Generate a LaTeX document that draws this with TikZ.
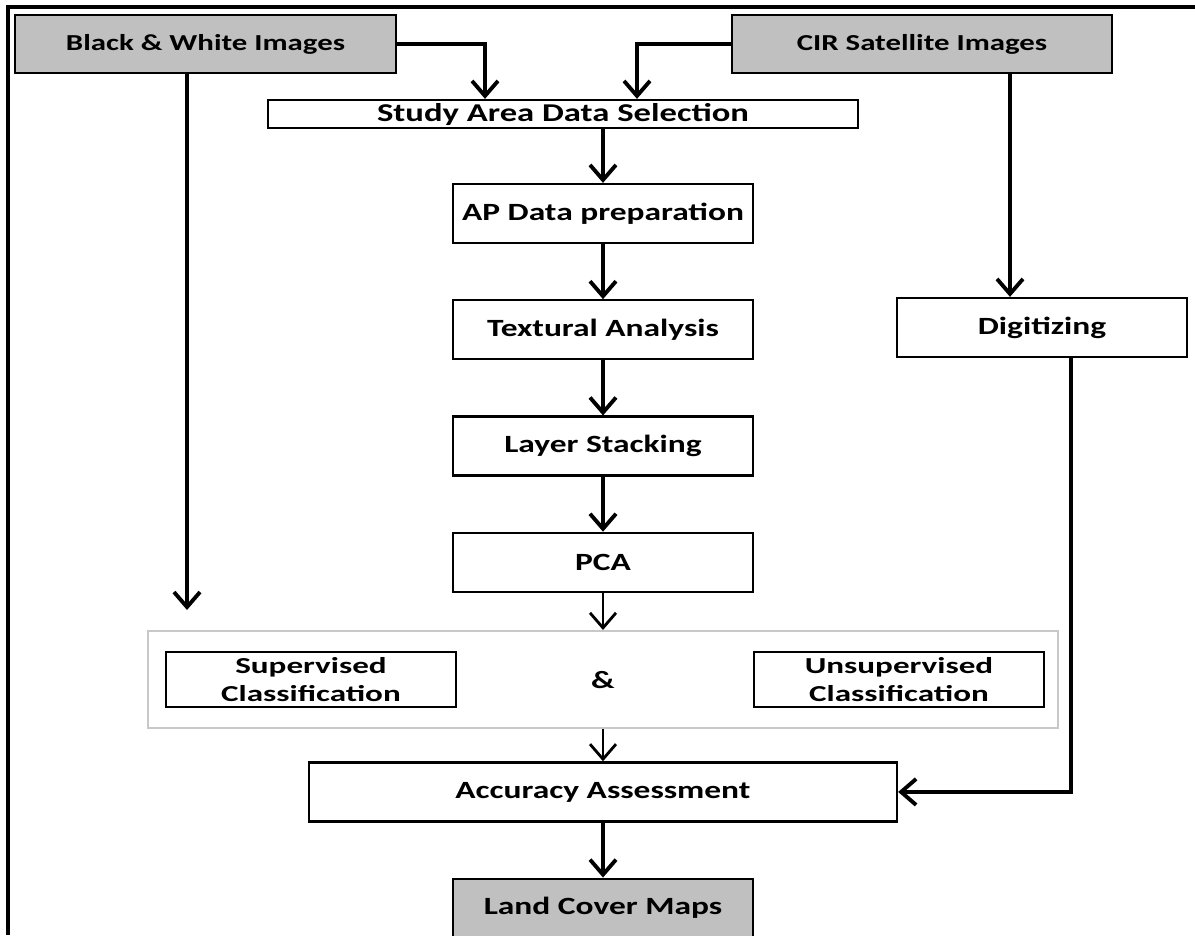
\documentclass[tikz,border=0pt]{standalone}
\usepackage{fontspec}
\setmainfont{Carlito}
\newfontfamily\midfont[FakeStretch=1.35]{Carlito}
\newfontfamily\widefont[FakeStretch=1.45]{Carlito}
\usetikzlibrary{positioning, arrows.meta}
\definecolor{boxgray}{RGB}{192,192,192}
\definecolor{groupline}{RGB}{200,200,200}
\tikzset{
>={Straight Barb[length=3mm, width=5.2mm]}, % open v-shaped heads
node distance=1.1cm, % gap between the boxes of the middle column
box/.style={draw, line width=1.3pt, minimum height=1.18cm, align=center, font=\midfont\bfseries\fontsize{14.1}{17}\selectfont}, % plain step
source/.style={box, fill=boxgray, font=\midfont\bfseries\fontsize{13}{16}\selectfont}, % grey input boxes
method/.style={box, minimum width=5.8cm, minimum height=1.1cm, inner sep=1pt, font=\widefont\bfseries\fontsize{13}{15.6}\selectfont}, % the two classifications
flow/.style={->, line width=2.2pt}, % thick connectors
thinflow/.style={->, line width=1.6pt}, % thin connectors
}

\begin{document}
\begin{tikzpicture}
        \useasboundingbox (0,0) rectangle (23.9,-18.7);
        % frame on the top and left only
        \draw[line width=2.2pt] (0.16,-18.7) -- (0.16,-0.14) -- (23.9,-0.14);

        \node[source, minimum width=7.62cm, minimum height=1.16cm] (bw) at (4.11,-0.88) {Black \& White Images};
        \node[source, minimum width=7.6cm, minimum height=1.16cm] (cir) at (18.44,-0.88) {CIR Satellite Images};
        \node[box, minimum width=11.8cm, minimum height=0.56cm, inner sep=0pt, font=\midfont\bfseries\fontsize{14.6}{16}\selectfont] (study) at (11.26,-2.28) {Study Area Data Selection};

        \node[box, minimum width=6cm] (ap) at (12.06,-4.27) {AP Data preparation};
        \node[box, minimum width=6cm, below=of ap] (tex) {Textural Analysis};
        \node[box, minimum width=6cm, below=of tex] (layer) {Layer Stacking};
        \node[box, minimum width=6cm, below=of layer] (pca) {PCA};
        \node[box, minimum width=5.8cm] (dig) at (20.84,-6.55) {Digitizing};

        \node[draw=groupline, line width=1.3pt, minimum width=18.2cm, minimum height=1.94cm, below=0.74cm of pca] (group) {};
        \node[method, right=0.36cm of group.west] (sup) {Supervised\\Classification};
        \node[method, left=0.28cm of group.east] (unsup) {Unsupervised\\Classification};
        \node[font=\midfont\bfseries\fontsize{14.1}{17}\selectfont] (amp) at (group.center) {\&};

        \node[box, minimum width=11.76cm, below=0.64cm of group] (acc) {Accuracy Assessment};
        \node[box, fill=boxgray, minimum width=6cm, below=of acc] (land) {Land Cover Maps};

        \coordinate (bwend) at ([xshift=-0.37cm]bw.south |- 0,-12.2);

        \draw[flow] (bw.east) -| ([xshift=-1.56cm]study.north);
        \draw[flow] (cir.west) -| ([xshift=1.48cm]study.north);
        \draw[flow] ([xshift=-0.37cm]bw.south) -- (bwend);
        \draw[flow] ([xshift=1.76cm]cir.south) -- ([xshift=1.76cm]cir.south |- dig.north);
        \draw[flow] (ap.north |- study.south) -- (ap.north);
        \draw[flow] (ap) -- (tex);
        \draw[flow] (tex) -- (layer);
        \draw[flow] (layer) -- (pca);
        \draw[thinflow] (pca) -- (group);
        \draw[thinflow] (group) -- (acc);
        \draw[flow] ([xshift=0.58cm]dig.south) |- (acc.east);
        \draw[flow] (acc) -- (land);
    \end{tikzpicture}
\end{document}
